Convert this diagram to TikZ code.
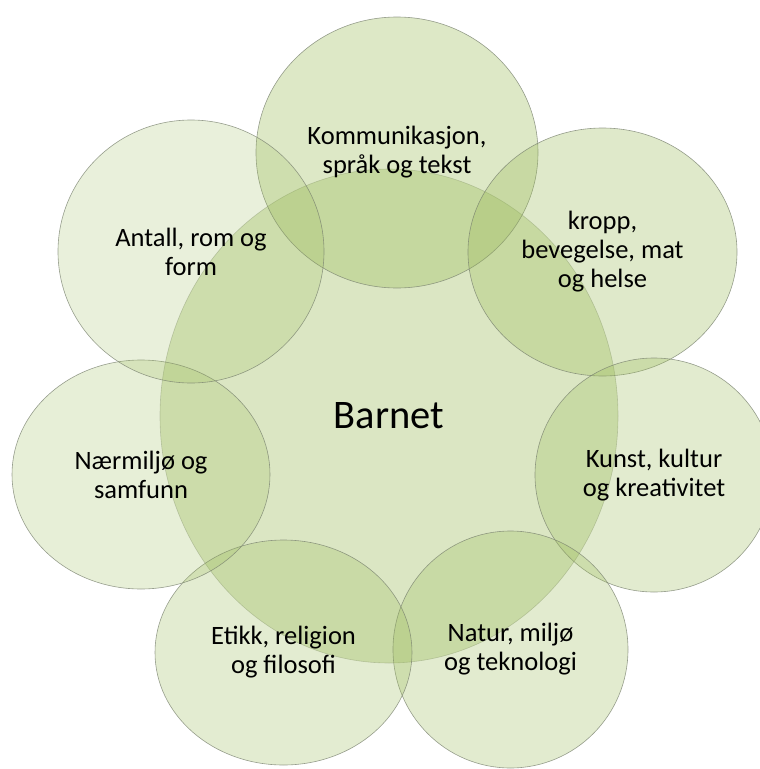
\documentclass[tikz,border=0pt]{standalone}
\usepackage{fontspec}
\setmainfont{Carlito}
\usetikzlibrary{shapes.geometric}
\definecolor{leaf}{RGB}{155,187,89}
\definecolor{rim}{RGB}{120,128,110}
\tikzset{
  x=1pt,y=-1pt,
  blob/.style={ellipse,draw=rim,draw opacity=0.75,line width=0.6pt,fill=leaf,inner sep=0pt},
  lbl/.style={align=center,font=\fontsize{26.5}{29}\selectfont,text=black},
}
\begin{document}
\begin{tikzpicture}
\useasboundingbox (0,0) rectangle (760,769);
\clip (0,0) rectangle (760,769);
% central circle
\node[blob,draw opacity=0.4,fill opacity=0.36,minimum width=458pt,minimum height=494pt] (c) at (389,416) {};
% surrounding circles
\node[blob,fill opacity=0.34,minimum width=282pt,minimum height=271pt] (k1) at (397,152.5) {};
\node[blob,fill opacity=0.32,minimum width=269pt,minimum height=248pt] (k2) at (602.5,252) {};
\node[blob,fill opacity=0.29,minimum width=238pt,minimum height=234pt] (k3) at (654,475) {};
\node[blob,fill opacity=0.29,minimum width=235pt,minimum height=237pt] (k4) at (510.5,649.5) {};
\node[blob,fill opacity=0.28,minimum width=257pt,minimum height=225pt] (k5) at (283.5,652.5) {};
\node[blob,fill opacity=0.24,minimum width=258pt,minimum height=229pt] (k6) at (141,474.5) {};
\node[blob,fill opacity=0.22,minimum width=266pt,minimum height=263pt] (k7) at (191,251.5) {};
% labels
\node[font=\fontsize{40.5}{48}\selectfont] (tc) at (c.center) {Barnet};
\node[lbl] (t1) at (k1.center) {Kommunikasjon,\\språk og tekst};
\node[lbl] (t2) at (k2.center) {kropp,\\bevegelse, mat\\og helse};
\node[lbl] (t3) at (k3.center) {Kunst, kultur\\og kreativitet};
\node[lbl] (t4) at (k4.center) {Natur, miljø\\og teknologi};
\node[lbl] (t5) at (k5.center) {Etikk, religion\\og filosofi};
\node[lbl] (t6) at (k6.center) {Nærmiljø og\\samfunn};
\node[lbl] (t7) at (k7.center) {Antall, rom og\\form};
\end{tikzpicture}
\end{document}
